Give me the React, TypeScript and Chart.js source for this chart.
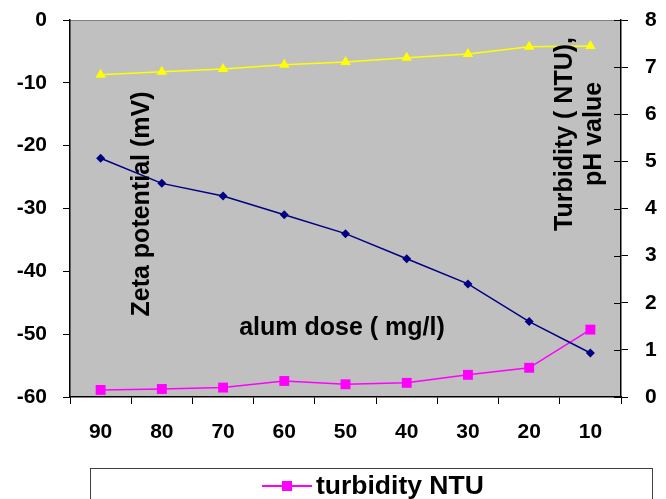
import React, { useEffect, useRef } from "react";
import { Chart, registerables } from "chart.js";

Chart.register(...registerables);

const categories = ["90", "80", "70", "60", "50", "40", "30", "20", "10"];
const zetaPotential = [-22, -26, -28, -31, -34, -38, -42, -48, -53];
const phValue = [6.84, 6.9, 6.96, 7.05, 7.11, 7.2, 7.28, 7.43, 7.45];
const turbidity = [0.15, 0.17, 0.2, 0.34, 0.27, 0.3, 0.47, 0.62, 1.43];

const FONT = "'Liberation Sans', Arial, sans-serif";

const decorPlugin = {
  id: "decor",
  beforeDraw(chart: any) {
    const { ctx, chartArea: a } = chart;
    ctx.save();
    ctx.fillStyle = "#C0C0C0";
    ctx.fillRect(a.left, a.top, a.right - a.left, a.bottom - a.top);
    ctx.strokeStyle = "#808080";
    ctx.lineWidth = 1;
    ctx.beginPath();
    ctx.moveTo(a.left, a.top + 0.5);
    ctx.lineTo(a.right, a.top + 0.5);
    ctx.stroke();
    ctx.restore();
  },
  afterDatasetsDraw(chart: any) {
    const { ctx, chartArea: a } = chart;
    ctx.save();
    const y1 = chart.scales.y1;
    ctx.strokeStyle = "#000";
    ctx.lineWidth = 1;
    y1.ticks.forEach((t: any) => {
      const py = Math.round(y1.getPixelForValue(t.value)) + 0.5;
      ctx.beginPath();
      ctx.moveTo(a.right - 7, py);
      ctx.lineTo(a.right, py);
      ctx.stroke();
    });
    ctx.fillStyle = "#000";
    ctx.font = `bold 25px ${FONT}`;
    ctx.textAlign = "center";
    ctx.textBaseline = "middle";
    ctx.save();
    ctx.translate(142, 204);
    ctx.rotate(-Math.PI / 2);
    ctx.fillText("Zeta potential (mV)", 0, 0);
    ctx.restore();
    ctx.save();
    ctx.translate(580, 134);
    ctx.rotate(-Math.PI / 2);
    ctx.fillText("Turbidity ( NTU),", 0, -15);
    ctx.fillText("pH value", 0, 14);
    ctx.restore();
    ctx.fillText("alum dose ( mg/l)", 342, 328);
    ctx.restore();
  },
  afterDraw(chart: any) {
    const { ctx } = chart;
    ctx.save();
    ctx.fillStyle = "#fff";
    ctx.fillRect(90, 468, 562, 40);
    ctx.strokeStyle = "#404040";
    ctx.lineWidth = 1;
    ctx.strokeRect(90.5, 468.5, 562, 40);
    ctx.strokeStyle = "#FF00FF";
    ctx.lineWidth = 2;
    ctx.beginPath();
    ctx.moveTo(262, 486);
    ctx.lineTo(312, 486);
    ctx.stroke();
    ctx.fillStyle = "#FF00FF";
    ctx.fillRect(282, 481, 10, 10);
    ctx.fillStyle = "#000";
    ctx.font = `bold 26.5px ${FONT}`;
    ctx.textAlign = "left";
    ctx.textBaseline = "middle";
    ctx.fillText("turbidity NTU", 316, 487);
    ctx.restore();
  },
};

export default function App() {
  const ref = useRef<HTMLCanvasElement | null>(null);
  useEffect(() => {
    document.body.style.margin = "0";
    const canvas = ref.current!;
    const tickFont = { family: FONT, size: 21, weight: "bold" as const };
    const chart = new Chart(canvas, {
      type: "line",
      data: {
        labels: categories,
        datasets: [
          {
            label: "zeta potential",
            data: zetaPotential,
            yAxisID: "y",
            borderColor: "#000080",
            backgroundColor: "#000080",
            borderWidth: 1.5,
            pointStyle: "rectRot",
            pointRadius: 4.5,
            pointBorderWidth: 0,
          },
          {
            label: "pH value",
            data: phValue,
            yAxisID: "y1",
            borderColor: "#FFFF00",
            backgroundColor: "#FFFF00",
            borderWidth: 1.5,
            pointStyle: "triangle",
            pointRadius: 6,
            pointBorderWidth: 0,
          },
          {
            label: "turbidity NTU",
            data: turbidity,
            yAxisID: "y1",
            borderColor: "#FF00FF",
            backgroundColor: "#FF00FF",
            borderWidth: 1.5,
            pointStyle: "rect",
            pointRadius: 7,
            pointBorderWidth: 0,
          },
        ],
      },
      options: {
        responsive: false,
        animation: false,
        layout: { padding: { top: 20, left: 0, right: 0, bottom: 0 } },
        plugins: { legend: { display: false }, tooltip: { enabled: false } },
        scales: {
          x: {
            offset: true,
            grid: {
              offset: true,
              drawOnChartArea: false,
              tickLength: 7,
              color: "#000",
            },
            border: { color: "#000", width: 1.5 },
            ticks: { color: "#000", font: tickFont, padding: 16, maxRotation: 0 },
            afterFit(s: any) {
              s.height = 102;
              s.paddingLeft = 0;
              s.paddingRight = 0;
            },
          },
          y: {
            position: "left",
            min: -60,
            max: 0,
            ticks: { stepSize: 10, color: "#000", font: tickFont, padding: 16 },
            grid: { drawOnChartArea: false, tickLength: 7, color: "#000" },
            border: { color: "#000", width: 1.5 },
            afterFit(s: any) {
              s.width = 70;
              s.paddingTop = 0;
              s.paddingBottom = 0;
            },
          },
          y1: {
            position: "right",
            min: 0,
            max: 8,
            ticks: { stepSize: 1, color: "#000", font: tickFont, padding: 17 },
            grid: { drawOnChartArea: false, tickLength: 7, color: "#000" },
            border: { color: "#000", width: 1.5 },
            afterFit(s: any) {
              s.width = 45;
              s.paddingTop = 0;
              s.paddingBottom = 0;
            },
          },
        },
      },
      plugins: [decorPlugin],
    });
    return () => chart.destroy();
  }, []);
  return (
    <div style={{ position: "absolute", left: 0, top: 0, width: 666, height: 499, background: "#fff", overflow: "hidden" }}>
      <canvas ref={ref} width={666} height={499} style={{ width: 666, height: 499 }} />
    </div>
  );
}
